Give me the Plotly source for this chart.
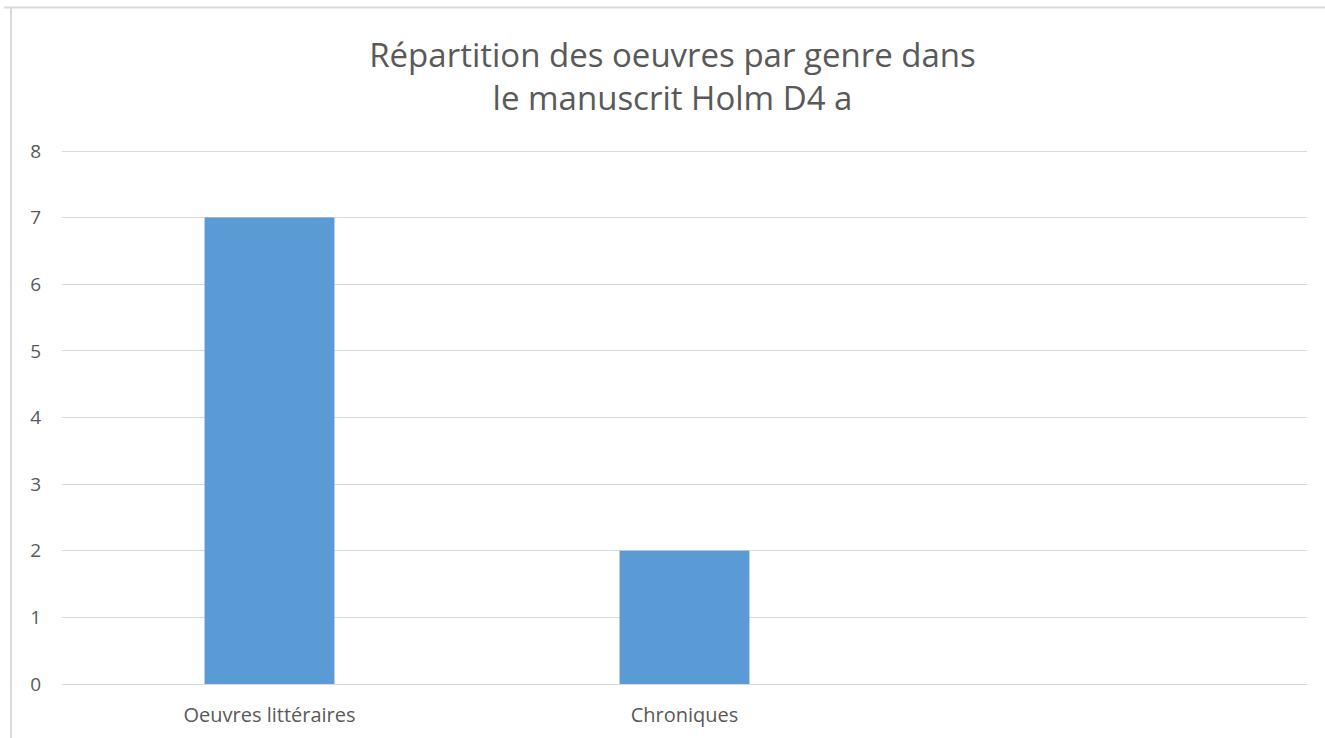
import plotly.graph_objects as go

categories = ["Oeuvres littéraires", "Chroniques", " "]
values = [7, 2, None]
y_ticks = [0, 1, 2, 3, 4, 5, 6, 7, 8]
title_lines = ["Répartition des oeuvres par genre dans", "le manuscrit Holm D4 a"]

W, H = 1325, 738
ML, MR, MT, MB = 62, 18, 149, 54
pw, ph = W - ML - MR, H - MT - MB

def px_x(x):
    return (x - ML) / pw

def px_y(y):
    return (H - MB - y) / ph

font_family = "Open Sans, Noto Sans, sans-serif"
text_col = "#595959"
grid_col = "#d9d9d9"

fig = go.Figure(go.Bar(
    x=categories, y=values,
    marker=dict(color="#5b9bd5", line=dict(width=0)),
    hoverinfo="x+y",
))

fig.update_layout(
    width=W, height=H,
    margin=dict(l=ML, r=MR, t=MT, b=MB, autoexpand=False),
    paper_bgcolor="white", plot_bgcolor="white",
    bargap=0.687,
    showlegend=False,
    font=dict(family=font_family, color=text_col, size=19),
    title=dict(
        text="<br>".join(title_lines),
        x=672.5 / W, xanchor="center", y=1 - 67 / H, yanchor="middle",
        font=dict(size=33, color=text_col, family=font_family),
    ),
    xaxis=dict(
        type="category", categoryorder="array", categoryarray=categories,
        showgrid=False, showline=True, linecolor=grid_col, linewidth=1,
        ticks="", tickfont=dict(size=20, color=text_col),
        ticklabelstandoff=13,
        fixedrange=True,
    ),
    yaxis=dict(
        range=[0, 8.03], tickvals=y_ticks, showgrid=True, gridcolor=grid_col,
        gridwidth=1, zeroline=False, showline=False, ticks="",
        tickfont=dict(size=19, color=text_col), ticklabelstandoff=20,
        fixedrange=True,
    ),
    shapes=[
        dict(type="line", xref="paper", yref="paper",
             x0=px_x(4), x1=px_x(1325), y0=px_y(7.5), y1=px_y(7.5),
             line=dict(color=grid_col, width=2)),
        dict(type="line", xref="paper", yref="paper",
             x0=px_x(11), x1=px_x(11), y0=px_y(7.5), y1=px_y(738),
             line=dict(color=grid_col, width=2)),
    ],
)

fig.write_html("out.html", config={"displayModeBar": False},
               post_script="document.body.style.margin='0';")
